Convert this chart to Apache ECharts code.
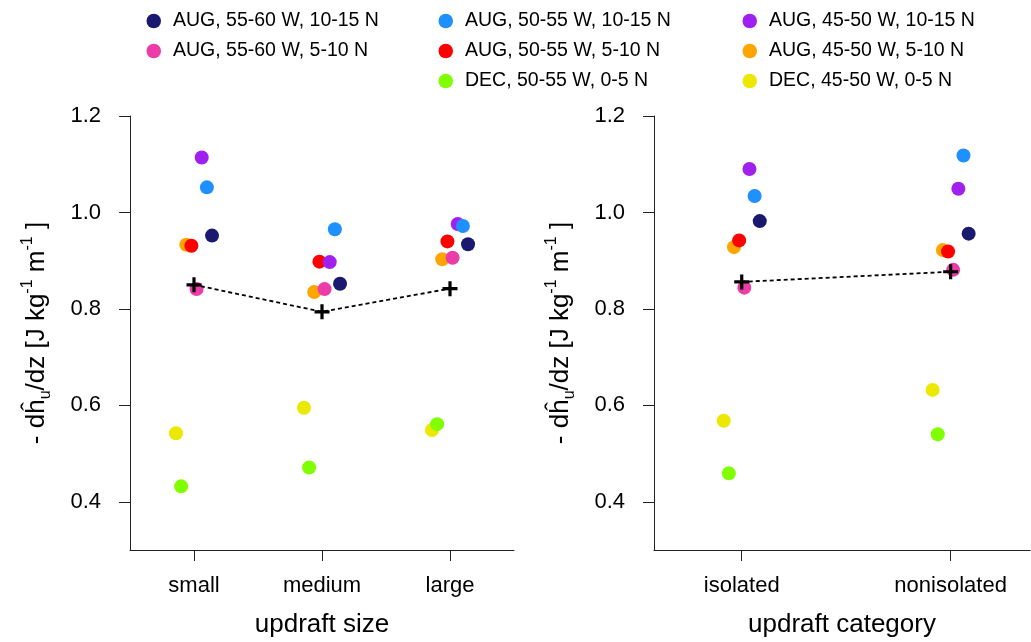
<!DOCTYPE html>
<html>
<head>
<meta charset="utf-8">
<script src="https://cdn.jsdelivr.net/npm/echarts@6/dist/echarts.min.js"></script>
<style>
html,body{margin:0;padding:0;background:#fff;}
#chart{width:1031px;height:642px;}
</style>
</head>
<body>
<div id="chart"></div>
<script>
// ---- data ----
const sizeCats = ['small', 'medium', 'large'];
const typeCats = ['isolated', 'nonisolated'];
const yTicks = [0.4, 0.6, 0.8, 1.0, 1.2];

// series names (drawing / dodge order, left to right within each category)
const seriesNames = [
  'DEC, 45-50 W, 0-5 N',
  'DEC, 50-55 W, 0-5 N',
  'AUG, 45-50 W, 5-10 N',
  'AUG, 50-55 W, 5-10 N',
  'AUG, 55-60 W, 5-10 N',
  'AUG, 45-50 W, 10-15 N',
  'AUG, 50-55 W, 10-15 N',
  'AUG, 55-60 W, 10-15 N'
];
const seriesColors = ['#ECE800', '#7FFF00', '#FFA500', '#FF0000', '#EB3CA8', '#A020F0', '#1E90FF', '#191970'];

// values by updraft size (small, medium, large)
const sizeDec4550 = [0.542, 0.595, 0.549];
const sizeDec5055 = [0.432, 0.471, 0.561];
const sizeAug4550S = [0.933, 0.835, 0.903];
const sizeAug5055S = [0.931, 0.898, 0.940];
const sizeAug5560S = [0.841, 0.841, 0.906];
const sizeAug4550N = [1.114, 0.897, 0.976];
const sizeAug5055N = [1.052, 0.965, 0.972];
const sizeAug5560N = [0.952, 0.852, 0.934];
const sizeMeans = [0.850, 0.794, 0.842];

// values by updraft category (isolated, nonisolated)
const typeDec4550 = [0.568, 0.632];
const typeDec5055 = [0.459, 0.540];
const typeAug4550S = [0.928, 0.922];
const typeAug5055S = [0.942, 0.919];
const typeAug5560S = [0.844, 0.881];
const typeAug4550N = [1.090, 1.049];
const typeAug5055N = [1.034, 1.118];
const typeAug5560N = [0.982, 0.956];
const typeMeans = [0.856, 0.877];

// legend columns
const legendCol1 = ['AUG, 55-60 W, 10-15 N', 'AUG, 55-60 W, 5-10 N'];
const legendCol2 = ['AUG, 50-55 W, 10-15 N', 'AUG, 50-55 W, 5-10 N', 'DEC, 50-55 W, 0-5 N'];
const legendCol3 = ['AUG, 45-50 W, 10-15 N', 'AUG, 45-50 W, 5-10 N', 'DEC, 45-50 W, 0-5 N'];

// ---- build ----
const sizeSets = [sizeDec4550, sizeDec5055, sizeAug4550S, sizeAug5055S, sizeAug5560S, sizeAug4550N, sizeAug5055N, sizeAug5560N];
const typeSets = [typeDec4550, typeDec5055, typeAug4550S, typeAug5055S, typeAug5560S, typeAug4550N, typeAug5055N, typeAug5560N];

const FONT = "'Liberation Sans', Arial, Helvetica, sans-serif";
const DODGE = 5.15;
const CROSS = 'path://M0,5.5L14,5.5L14,8.5L0,8.5Z M5.5,0L8.5,0L8.5,14L5.5,14Z';

const series = [];
function addPanel(sets, means, idx) {
  sets.forEach((vals, i) => {
    series.push({
      type: 'scatter',
      name: seriesNames[i],
      xAxisIndex: idx, yAxisIndex: idx,
      data: vals.map((v, j) => [j + 1, v]),
      symbol: 'circle',
      symbolSize: 14,
      symbolOffset: [(i - 3.5) * DODGE, 0],
      itemStyle: { color: seriesColors[i], opacity: 1 },
      emphasis: { disabled: true },
      z: 2
    });
  });
  series.push({
    type: 'line',
    name: 'mean',
    xAxisIndex: idx, yAxisIndex: idx,
    data: means.map((v, j) => [j + 1, v]),
    symbol: CROSS,
    symbolSize: 15,
    showSymbol: true,
    itemStyle: { color: '#000', borderWidth: 0 },
    lineStyle: { color: '#000', width: 1.8, type: [4, 3] },
    emphasis: { disabled: true },
    z: 5
  });
}
addPanel(sizeSets, sizeMeans, 0);
addPanel(typeSets, typeMeans, 1);

const yName = '{n|- d}{n|ĥ}{sub|u}{n|/dz [J kg}{sup|-1}{n| m}{sup|-1}{n| ]}';
const yRich = {
  n: { fontSize: 26, fontFamily: FONT, color: '#000', lineHeight: 34, verticalAlign: 'middle' },
  sub: { fontSize: 16, fontFamily: FONT, color: '#000', lineHeight: 17, verticalAlign: 'bottom' },
  sup: { fontSize: 16, fontFamily: FONT, color: '#000', lineHeight: 17, verticalAlign: 'top' }
};

function yAxis(idx) {
  return {
    type: 'value', gridIndex: idx, min: 0.3, max: 1.2,
    axisLine: { show: true, lineStyle: { color: '#222', width: 1 } },
    axisTick: { show: true, length: 11, customValues: yTicks, lineStyle: { color: '#222' } },
    axisLabel: { customValues: yTicks, margin: 29, fontSize: 22, fontFamily: FONT, color: '#000',
      formatter: v => v.toFixed(1) },
    splitLine: { show: false },
    name: yName, nameLocation: 'middle', nameRotate: 90, nameGap: 76,
    nameTextStyle: { rich: yRich }
  };
}
function xAxis(idx, cats, min, max, title) {
  const vals = cats.map((c, j) => j + 1);
  return {
    type: 'value', gridIndex: idx, min: min, max: max,
    axisLine: { show: true, onZero: false, lineStyle: { color: '#222', width: 1 } },
    axisTick: { show: true, length: 11, customValues: vals, lineStyle: { color: '#222' } },
    axisLabel: { customValues: vals, margin: 25, fontSize: 22, fontFamily: FONT, color: '#000',
      formatter: v => cats[Math.round(v) - 1] },
    splitLine: { show: false },
    name: title, nameLocation: 'middle', nameGap: 62,
    nameTextStyle: { fontSize: 26, fontFamily: FONT, color: '#000' }
  };
}

function legend(data, left) {
  return {
    data: data.map(n => ({ name: n, icon: 'circle' })),
    orient: 'vertical', left: left, top: 6,
    itemWidth: 14.5, itemHeight: 14.5, itemGap: 10,
    selectedMode: false,
    textStyle: { fontSize: 19.5, fontFamily: FONT, color: '#000', lineHeight: 20, padding: [0, 0, 0, 7] }
  };
}

const option = {
  animation: false,
  backgroundColor: '#fff',
  legend: [legend(legendCol1, 141.5), legend(legendCol2, 433.5), legend(legendCol3, 737.5)],
  grid: [
    { left: 130, right: 517, top: 116, bottom: 92, outerBoundsMode: 'none' },
    { left: 654, right: 1, top: 116, bottom: 92, outerBoundsMode: 'none' }
  ],
  xAxis: [xAxis(0, sizeCats, 0.5, 3.5, 'updraft size'), xAxis(1, typeCats, 0.58, 2.38, 'updraft category')],
  yAxis: [yAxis(0), yAxis(1)],
  series: series
};

const chart = echarts.init(document.getElementById('chart'), null, { renderer: 'canvas' });
chart.setOption(option);
</script>
</body>
</html>
